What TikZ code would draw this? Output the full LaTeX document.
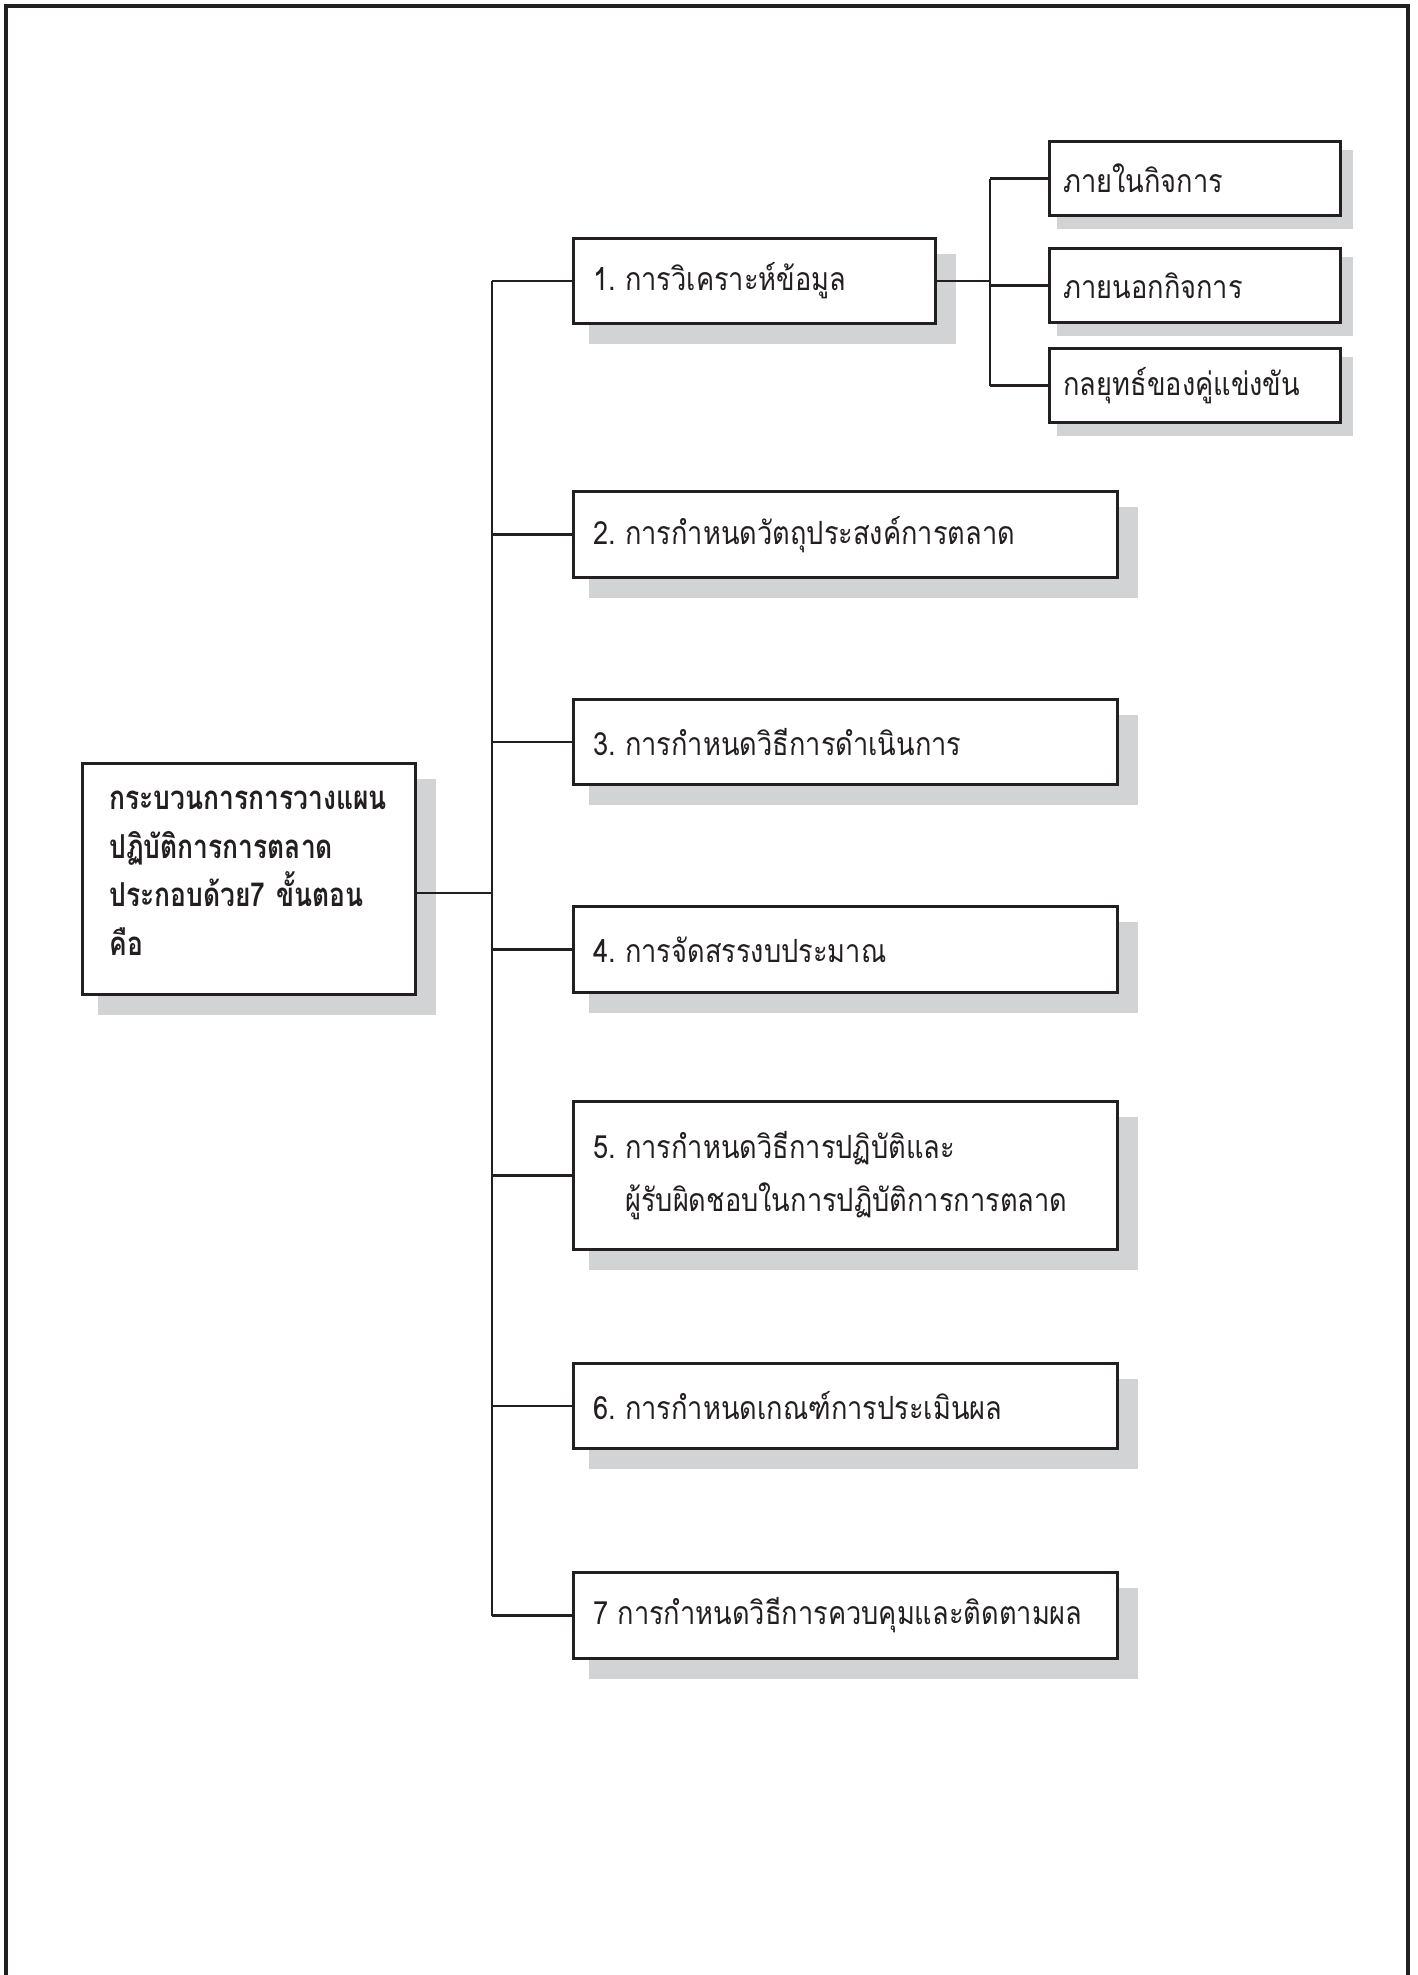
\documentclass[tikz,border=0pt]{standalone}
\usepackage{fontspec}
\newfontfamily\thai[Script=Thai, FakeStretch=0.85]{Loma}
\newfontfamily\thaititle[Script=Thai, FakeStretch=0.80]{Loma}

\definecolor{ink}{HTML}{231F20}
\definecolor{shade}{HTML}{D1D3D4}

\pgfdeclarelayer{background}
\pgfsetlayers{background,main}

\tikzset{
  frameline/.style={draw=ink, line width=3.5pt},
  link/.style={draw=ink, line width=2.8pt},
  stepbox/.style={draw=ink, line width=3pt, fill=white, anchor=north west,
    inner xsep=20pt, inner ysep=0pt, align=left, text=ink,
    font=\thai\fontsize{32}{53}\selectfont},
  subbox/.style={stepbox, inner xsep=14pt},
  titlebox/.style={stepbox, inner xsep=27pt,
    font=\thaititle\bfseries\fontsize{33}{48.5}\selectfont},
  shadowfill/.style={fill=shade, draw=none}
}

\begin{document}
\begin{tikzpicture}[x=1pt, y=-1pt]
  \useasboundingbox (0,0) rectangle (1417,1975);

  % open page frame
  \draw[frameline] (6,1975) -- (6,6) -- (1408,6) -- (1408,1975);

  % title box
  \node[titlebox, minimum width=333pt, minimum height=231pt, text width=279pt]
    (title) at (81,762) {กระบวนการการวางแผน\\ปฏิบัติการการตลาด\\ประกอบด้วย7~ขั้นตอน\\คือ\vphantom{ป}\rule[-12pt]{0pt}{0pt}};

  % the seven steps
  \node[stepbox, minimum width=362pt, minimum height=85pt, text width=322pt]
    (s1) at (572,237) {1.\hspace{9pt}การวิเคราะห์ข้อมูล};
  \node[stepbox, minimum width=544pt, minimum height=86pt, text width=504pt]
    (s2) at (572,490) {2.\hspace{9pt}การกำหนดวัตถุประสงค์การตลาด};
  \node[stepbox, minimum width=544pt, minimum height=85pt, text width=504pt]
    (s3) at (572,698) {3.\hspace{9pt}การกำหนดวิธีการดำเนินการ};
  \node[stepbox, minimum width=544pt, minimum height=86pt, text width=504pt]
    (s4) at (572,905) {4.\hspace{9pt}การจัดสรรงบประมาณ};
  \node[stepbox, minimum width=544pt, minimum height=148pt, text width=504pt]
    (s5) at (572,1100) {5.\hspace{9pt}การกำหนดวิธีการปฏิบัติและ\\\phantom{5.}\hspace{9pt}ผู้รับผิดชอบในการปฏิบัติการการตลาด};
  \node[stepbox, minimum width=544pt, minimum height=85pt, text width=504pt]
    (s6) at (572,1362) {6.\hspace{9pt}การกำหนดเกณฑ์การประเมินผล};
  \node[stepbox, minimum width=544pt, minimum height=86pt, text width=504pt]
    (s7) at (572,1571) {7\hspace{9pt}การกำหนดวิธีการควบคุมและติดตามผล};

  % sub-items of step 1
  \node[subbox, minimum width=291pt, minimum height=74pt, text width=263pt]
    (a1) at (1048,140) {ภายในกิจการ};
  \node[subbox, minimum width=291pt, minimum height=74pt, text width=263pt]
    (a2) at (1048,247) {ภายนอกกิจการ};
  \node[subbox, minimum width=291pt, minimum height=74pt, text width=263pt]
    (a3) at (1048,347) {กลยุทธ์ของคู่แข่งขัน};

  % flat offset shadows behind the boxes
  \begin{pgfonlayer}{background}
    \foreach \n in {title,s1,s2,s3,s4,s5,s6,s7}
      \fill[shadowfill] ([shift={(17pt,-17pt)}]\n.north west) rectangle ([shift={(18.5pt,-18.5pt)}]\n.south east);
    \foreach \n in {a1,a2,a3}
      \fill[shadowfill] ([shift={(9pt,-10pt)}]\n.north west) rectangle ([shift={(10.5pt,-11.5pt)}]\n.south east);
  \end{pgfonlayer}

  % main trunk
  \coordinate (tx) at (492,0);
  \draw[link] (s1.west -| tx) -- (s7.west -| tx);
  \draw[link] ([yshift=-14pt]title.east) -- ([yshift=-14pt]title.east -| tx);
  \foreach \s in {s1,s2,s3,s4,s5,s6,s7}
    \draw[link] (\s.west -| tx) -- (\s.west);

  % branch of step 1
  \coordinate (bx) at (990,0);
  \draw[link] (s1.east) -- (s1.east -| bx);
  \draw[link] (a1.west -| bx) -- (a3.west -| bx);
  \foreach \s in {a1,a2,a3}
    \draw[link] (\s.west -| bx) -- (\s.west);
\end{tikzpicture}
\end{document}
